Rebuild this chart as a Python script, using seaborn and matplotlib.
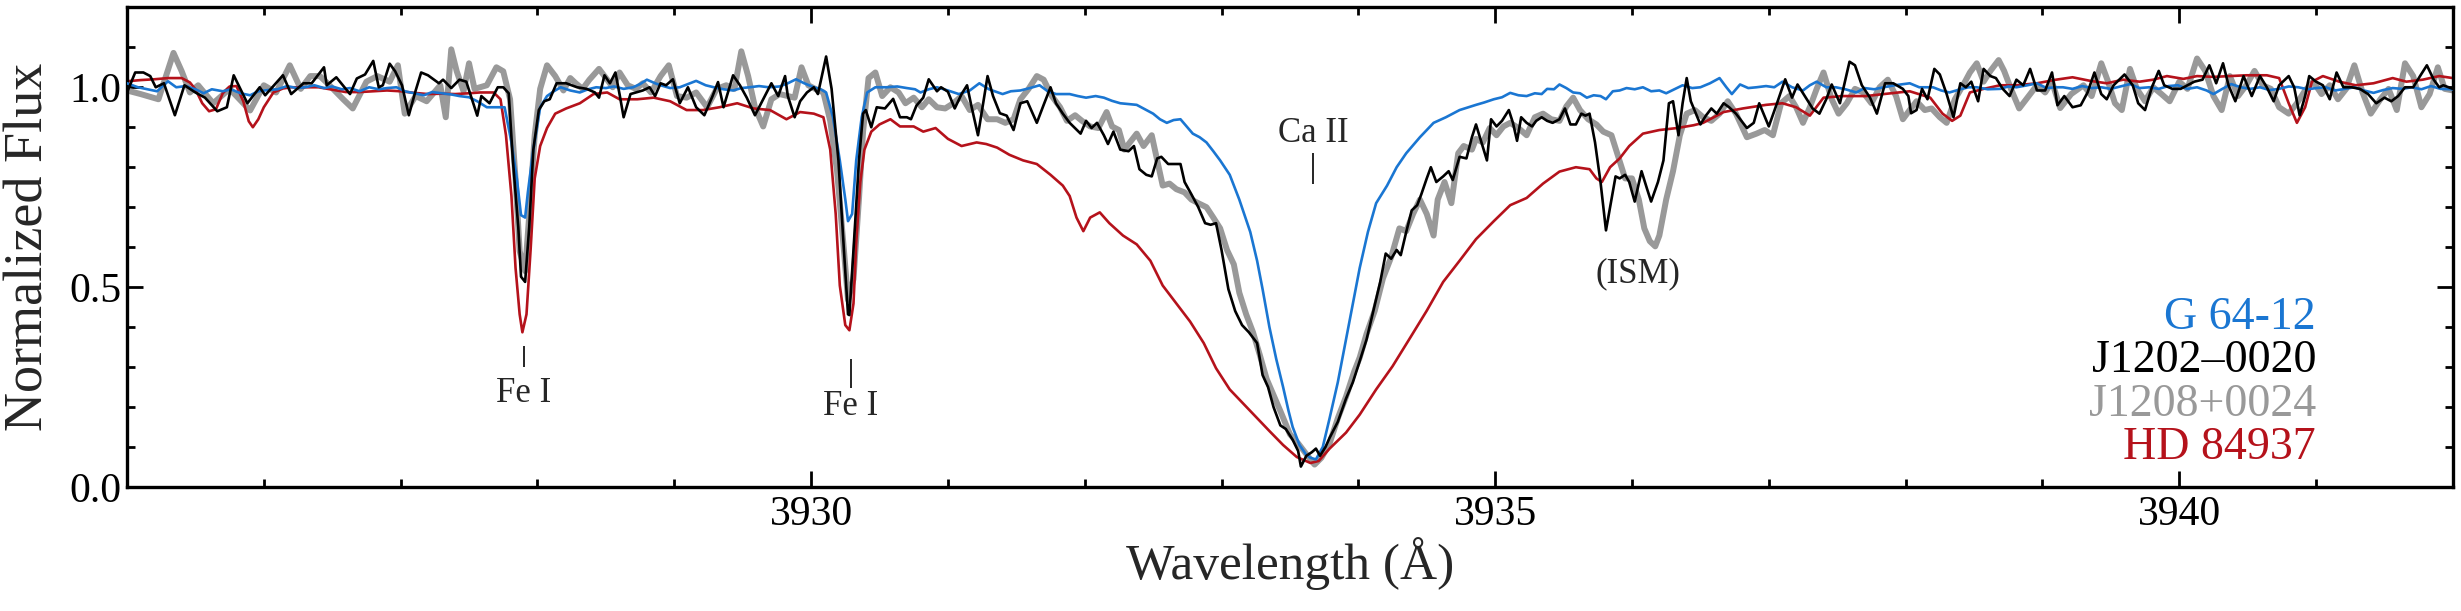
import numpy as np
import pandas as pd
import matplotlib
matplotlib.use("Agg")
import matplotlib.pyplot as plt
from matplotlib.ticker import MultipleLocator, FixedLocator
import seaborn as sns

sns.set_style("ticks")
plt.rcParams["font.family"] = ["Liberation Serif", "DejaVu Serif"]
plt.rcParams["mathtext.fontset"] = "dejavuserif"

# ---- data (wavelength in A, normalized flux) ----
g6412_wl = [3925.00, 3925.08, 3925.15, 3925.22, 3925.30, 3925.36, 3925.43, 3925.50, 3925.56, 3925.62,
            3925.70, 3925.76, 3925.83, 3925.90, 3925.96, 3926.03, 3926.10, 3926.17, 3926.24, 3926.30,
            3926.37, 3926.44, 3926.50, 3926.57, 3926.63, 3926.70, 3926.77, 3926.84, 3926.90, 3926.97,
            3927.03, 3927.10, 3927.17, 3927.23, 3927.30, 3927.37, 3927.43, 3927.50, 3927.56, 3927.63,
            3927.70, 3927.76, 3927.81, 3927.85, 3927.88, 3927.91, 3927.93, 3927.97, 3928.02, 3928.07,
            3928.12, 3928.17, 3928.24, 3928.31, 3928.37, 3928.43, 3928.50, 3928.56, 3928.63, 3928.70,
            3928.75, 3928.80, 3928.86, 3928.90, 3928.97, 3929.04, 3929.10, 3929.16, 3929.23, 3929.29,
            3929.36, 3929.43, 3929.49, 3929.55, 3929.62, 3929.69, 3929.77, 3929.83, 3929.89, 3929.95,
            3930.02, 3930.07, 3930.11, 3930.16, 3930.21, 3930.25, 3930.27, 3930.30, 3930.33, 3930.37,
            3930.41, 3930.47, 3930.55, 3930.63, 3930.70, 3930.76, 3930.80, 3930.86, 3930.92, 3931.00,
            3931.08, 3931.16, 3931.23, 3931.30, 3931.40, 3931.46, 3931.53, 3931.60, 3931.67, 3931.73,
            3931.79, 3931.89, 3931.95, 3932.01, 3932.08, 3932.14, 3932.20, 3932.26, 3932.32, 3932.38,
            3932.44, 3932.50, 3932.55, 3932.60, 3932.65, 3932.70, 3932.75, 3932.79, 3932.84, 3932.89,
            3932.94, 3932.99, 3933.06, 3933.13, 3933.21, 3933.26, 3933.30, 3933.35, 3933.40, 3933.45,
            3933.49, 3933.52, 3933.57, 3933.62, 3933.65, 3933.69, 3933.74, 3933.79, 3933.85, 3933.91,
            3933.96, 3934.01, 3934.07, 3934.13, 3934.21, 3934.28, 3934.35, 3934.45, 3934.55, 3934.64,
            3934.74, 3934.86, 3934.92, 3934.99, 3935.05, 3935.11, 3935.17, 3935.23, 3935.29, 3935.34,
            3935.38, 3935.43, 3935.47, 3935.52, 3935.57, 3935.62, 3935.67, 3935.72, 3935.77, 3935.81,
            3935.86, 3935.91, 3935.96, 3936.02, 3936.08, 3936.14, 3936.20, 3936.25, 3936.31, 3936.37,
            3936.44, 3936.50, 3936.57, 3936.64, 3936.69, 3936.73, 3936.79, 3936.85, 3936.91, 3936.98,
            3937.04, 3937.10, 3937.17, 3937.25, 3937.30, 3937.35, 3937.42, 3937.49, 3937.56, 3937.64,
            3937.70, 3937.77, 3937.84, 3937.92, 3938.03, 3938.10, 3938.20, 3938.26, 3938.32, 3938.40,
            3938.46, 3938.52, 3938.60, 3938.69, 3938.75, 3938.81, 3938.89, 3938.96, 3939.03, 3939.10,
            3939.15, 3939.22, 3939.29, 3939.36, 3939.43, 3939.50, 3939.57, 3939.64, 3939.71, 3939.78,
            3939.85, 3939.92, 3939.99, 3940.06, 3940.13, 3940.20, 3940.25, 3940.31, 3940.38, 3940.45,
            3940.52, 3940.59, 3940.66, 3940.73, 3940.80, 3940.87, 3940.94, 3941.00, 3941.07, 3941.14,
            3941.21, 3941.28, 3941.35, 3941.42, 3941.49, 3941.56, 3941.63, 3941.70, 3941.77, 3941.84,
            3941.91, 3942.00]
g6412_fx = [1.010, 1.000, 0.995, 0.990, 1.015, 1.000, 1.003, 0.995, 0.985, 0.995,
            0.990, 0.995, 0.985, 0.980, 0.990, 0.993, 0.995, 1.003, 0.998, 1.000,
            1.005, 0.998, 1.002, 0.995, 0.998, 0.990, 1.000, 0.995, 0.998, 1.000,
            0.990, 0.985, 0.980, 0.988, 0.985, 0.982, 0.978, 0.975, 0.965, 0.950,
            0.950, 0.950, 0.862, 0.770, 0.680, 0.674, 0.737, 0.844, 0.950, 0.978,
            0.990, 1.000, 0.992, 0.987, 0.995, 1.000, 0.998, 1.002, 0.996, 1.000,
            1.008, 1.019, 1.010, 1.005, 0.998, 1.000, 1.008, 1.016, 1.005, 1.000,
            0.995, 0.992, 0.998, 1.000, 1.003, 1.000, 1.002, 1.010, 1.020, 1.010,
            1.000, 0.995, 0.987, 0.925, 0.817, 0.720, 0.665, 0.683, 0.817, 0.925,
            0.987, 1.000, 1.000, 1.002, 0.998, 0.995, 0.987, 0.995, 1.000, 0.992,
            0.983, 0.992, 1.010, 0.995, 0.983, 0.990, 0.992, 0.998, 1.005, 0.990,
            0.983, 0.983, 0.978, 0.974, 0.978, 0.974, 0.966, 0.960, 0.958, 0.956,
            0.945, 0.934, 0.920, 0.911, 0.918, 0.920, 0.900, 0.884, 0.875, 0.862,
            0.840, 0.817, 0.781, 0.719, 0.638, 0.566, 0.495, 0.400, 0.320, 0.250,
            0.190, 0.150, 0.105, 0.080, 0.073, 0.069, 0.100, 0.172, 0.262, 0.369,
            0.459, 0.548, 0.638, 0.710, 0.754, 0.800, 0.835, 0.875, 0.911, 0.925,
            0.943, 0.956, 0.962, 0.970, 0.975, 0.986, 0.980, 0.978, 0.985, 0.983,
            0.996, 0.995, 1.007, 0.998, 0.987, 0.985, 0.974, 0.980, 0.978, 0.970,
            0.990, 0.992, 0.998, 0.995, 1.000, 0.990, 0.992, 0.985, 0.995, 1.005,
            0.998, 1.000, 1.010, 1.023, 1.000, 0.983, 1.007, 0.998, 1.000, 1.003,
            1.000, 1.014, 1.000, 0.992, 1.005, 1.014, 1.000, 1.000, 0.995, 0.987,
            0.998, 0.995, 1.000, 1.005, 1.010, 1.000, 1.000, 0.992, 0.987, 0.995,
            1.000, 1.000, 0.995, 0.996, 1.002, 1.000, 1.005, 1.010, 0.998, 1.000,
            1.000, 0.996, 1.003, 0.998, 1.000, 0.996, 1.002, 1.008, 0.998, 1.000,
            0.996, 1.003, 1.005, 0.996, 1.000, 0.992, 0.983, 0.995, 1.008, 1.000,
            0.996, 1.000, 0.993, 0.996, 1.002, 1.000, 0.995, 0.998, 1.000, 0.992,
            0.996, 1.000, 0.992, 0.986, 0.993, 0.998, 0.996, 1.000, 0.995, 1.003,
            0.996, 0.995]

j1202_wl = [3925.00, 3925.06, 3925.12, 3925.17, 3925.21, 3925.27, 3925.35, 3925.42, 3925.50, 3925.57,
            3925.66, 3925.73, 3925.78, 3925.88, 3925.97, 3926.01, 3926.14, 3926.20, 3926.29, 3926.35,
            3926.44, 3926.46, 3926.53, 3926.63, 3926.68, 3926.74, 3926.80, 3926.84, 3926.87, 3926.92,
            3926.96, 3927.01, 3927.06, 3927.11, 3927.15, 3927.20, 3927.28, 3927.31, 3927.37, 3927.43,
            3927.48, 3927.56, 3927.59, 3927.65, 3927.71, 3927.75, 3927.79, 3927.82, 3927.86, 3927.88,
            3927.91, 3927.94, 3927.97, 3928.01, 3928.05, 3928.09, 3928.14, 3928.21, 3928.29, 3928.36,
            3928.42, 3928.45, 3928.49, 3928.53, 3928.57, 3928.60, 3928.63, 3928.68, 3928.72, 3928.77,
            3928.82, 3928.86, 3928.90, 3928.94, 3928.99, 3929.04, 3929.10, 3929.16, 3929.22, 3929.28,
            3929.32, 3929.36, 3929.43, 3929.48, 3929.53, 3929.59, 3929.65, 3929.71, 3929.76, 3929.81,
            3929.83, 3929.88, 3929.92, 3929.97, 3930.02, 3930.05, 3930.11, 3930.15, 3930.20, 3930.24,
            3930.27, 3930.28, 3930.31, 3930.35, 3930.38, 3930.40, 3930.44, 3930.48, 3930.54, 3930.60,
            3930.65, 3930.70, 3930.73, 3930.77, 3930.82, 3930.86, 3930.92, 3930.95, 3931.00, 3931.05,
            3931.10, 3931.14, 3931.17, 3931.22, 3931.26, 3931.29, 3931.33, 3931.38, 3931.43, 3931.48,
            3931.53, 3931.58, 3931.65, 3931.70, 3931.75, 3931.79, 3931.84, 3931.89, 3931.97, 3932.01,
            3932.05, 3932.09, 3932.14, 3932.17, 3932.21, 3932.26, 3932.32, 3932.36, 3932.40, 3932.45,
            3932.49, 3932.53, 3932.56, 3932.61, 3932.66, 3932.70, 3932.73, 3932.78, 3932.83, 3932.88,
            3932.92, 3932.96, 3933.00, 3933.05, 3933.10, 3933.15, 3933.20, 3933.26, 3933.30, 3933.34,
            3933.38, 3933.43, 3933.47, 3933.52, 3933.56, 3933.58, 3933.62, 3933.66, 3933.69, 3933.72,
            3933.76, 3933.79, 3933.85, 3933.91, 3933.96, 3934.01, 3934.06, 3934.11, 3934.16, 3934.20,
            3934.24, 3934.28, 3934.31, 3934.35, 3934.39, 3934.43, 3934.46, 3934.50, 3934.53, 3934.57,
            3934.62, 3934.66, 3934.69, 3934.74, 3934.79, 3934.83, 3934.86, 3934.90, 3934.94, 3934.97,
            3935.01, 3935.05, 3935.10, 3935.13, 3935.16, 3935.19, 3935.23, 3935.27, 3935.30, 3935.34,
            3935.38, 3935.42, 3935.47, 3935.51, 3935.55, 3935.59, 3935.63, 3935.66, 3935.69, 3935.73,
            3935.77, 3935.81, 3935.85, 3935.88, 3935.91, 3935.95, 3935.98, 3936.02, 3936.07, 3936.11,
            3936.14, 3936.19, 3936.23, 3936.27, 3936.30, 3936.34, 3936.37, 3936.40, 3936.43, 3936.50,
            3936.54, 3936.58, 3936.62, 3936.67, 3936.71, 3936.76, 3936.84, 3936.89, 3936.93, 3937.00,
            3937.06, 3937.12, 3937.17, 3937.21, 3937.27, 3937.32, 3937.37, 3937.42, 3937.46, 3937.52,
            3937.59, 3937.63, 3937.68, 3937.74, 3937.79, 3937.85, 3937.91, 3937.98, 3938.02, 3938.04,
            3938.08, 3938.12, 3938.16, 3938.21, 3938.25, 3938.30, 3938.35, 3938.40, 3938.44, 3938.48,
            3938.53, 3938.57, 3938.62, 3938.66, 3938.71, 3938.76, 3938.81, 3938.86, 3938.91, 3938.96,
            3939.02, 3939.07, 3939.11, 3939.16, 3939.22, 3939.28, 3939.33, 3939.38, 3939.43, 3939.47,
            3939.52, 3939.60, 3939.66, 3939.70, 3939.75, 3939.80, 3939.85, 3939.89, 3939.95, 3940.01,
            3940.06, 3940.11, 3940.17, 3940.22, 3940.27, 3940.32, 3940.36, 3940.41, 3940.47, 3940.53,
            3940.59, 3940.64, 3940.69, 3940.73, 3940.80, 3940.84, 3940.88, 3940.92, 3940.95, 3941.00,
            3941.05, 3941.10, 3941.15, 3941.20, 3941.26, 3941.32, 3941.38, 3941.44, 3941.50, 3941.55,
            3941.60, 3941.65, 3941.71, 3941.76, 3941.81, 3941.86, 3941.90, 3941.93, 3942.00]
j1202_fx = [0.987, 1.037, 1.037, 1.028, 1.000, 1.010, 0.930, 1.005, 0.987, 0.974,
            0.940, 0.950, 1.030, 0.960, 1.000, 0.980, 1.030, 0.983, 1.010, 1.010,
            1.050, 1.005, 1.025, 0.983, 1.022, 1.032, 1.066, 1.000, 1.005, 1.059,
            1.040, 1.005, 0.930, 0.992, 1.037, 1.030, 1.010, 1.019, 0.998, 1.019,
            1.014, 0.929, 0.978, 0.960, 1.000, 1.000, 0.985, 0.820, 0.650, 0.526,
            0.513, 0.650, 0.844, 0.943, 0.965, 0.970, 1.010, 1.010, 1.000, 0.996,
            0.987, 0.974, 1.030, 1.010, 1.037, 0.983, 0.925, 0.983, 0.987, 0.992,
            1.000, 0.978, 1.010, 1.005, 1.020, 0.960, 1.000, 0.950, 0.930, 0.978,
            1.013, 0.950, 1.030, 1.005, 0.974, 0.930, 0.970, 1.010, 0.978, 1.028,
            0.978, 0.925, 0.965, 0.987, 1.000, 0.983, 1.077, 0.996, 0.817, 0.593,
            0.432, 0.430, 0.593, 0.817, 0.934, 0.943, 0.900, 0.950, 0.947, 0.971,
            0.925, 0.925, 0.920, 0.954, 0.974, 1.020, 0.990, 1.000, 0.989, 0.947,
            0.983, 1.005, 0.956, 0.880, 0.965, 1.028, 0.978, 0.935, 0.929, 0.893,
            0.960, 0.965, 0.911, 0.956, 1.000, 0.960, 0.934, 0.911, 0.884, 0.916,
            0.898, 0.911, 0.880, 0.858, 0.889, 0.844, 0.840, 0.853, 0.795, 0.781,
            0.777, 0.822, 0.826, 0.808, 0.808, 0.808, 0.763, 0.732, 0.700, 0.660,
            0.656, 0.660, 0.593, 0.495, 0.440, 0.405, 0.387, 0.360, 0.280, 0.250,
            0.200, 0.154, 0.145, 0.118, 0.090, 0.051, 0.078, 0.087, 0.096, 0.078,
            0.100, 0.123, 0.163, 0.221, 0.262, 0.315, 0.369, 0.441, 0.513, 0.584,
            0.571, 0.593, 0.580, 0.638, 0.692, 0.705, 0.732, 0.772, 0.800, 0.763,
            0.777, 0.790, 0.768, 0.826, 0.822, 0.875, 0.907, 0.862, 0.817, 0.920,
            0.902, 0.916, 0.943, 0.911, 0.866, 0.925, 0.911, 0.902, 0.916, 0.925,
            0.916, 0.911, 0.920, 0.947, 0.907, 0.907, 0.934, 0.929, 0.934, 0.862,
            0.763, 0.642, 0.719, 0.777, 0.772, 0.781, 0.763, 0.714, 0.790, 0.746,
            0.714, 0.763, 0.817, 0.960, 0.965, 0.880, 0.960, 1.023, 0.965, 0.907,
            0.929, 0.947, 0.934, 0.960, 0.950, 0.934, 0.898, 0.911, 0.960, 0.902,
            0.960, 1.020, 0.974, 1.007, 0.974, 0.947, 0.934, 0.970, 1.007, 0.960,
            1.064, 1.055, 1.005, 0.974, 0.934, 1.010, 1.010, 0.996, 0.978, 0.935,
            0.943, 0.996, 0.970, 1.046, 1.032, 0.983, 0.925, 1.010, 1.000, 1.014,
            0.965, 1.046, 1.028, 1.023, 0.996, 0.978, 1.019, 1.005, 1.046, 0.992,
            0.992, 1.037, 0.955, 0.978, 0.950, 0.955, 0.987, 1.037, 0.983, 0.970,
            1.005, 1.032, 1.005, 0.960, 0.943, 1.000, 1.041, 1.005, 0.996, 0.996,
            1.005, 1.014, 1.019, 1.055, 1.010, 1.060, 1.005, 0.965, 1.028, 0.978,
            1.028, 1.000, 0.965, 1.005, 1.028, 1.000, 0.930, 0.978, 1.028, 1.014,
            1.005, 0.970, 1.037, 1.000, 1.000, 0.996, 0.983, 0.960, 0.974, 0.965,
            0.978, 1.000, 1.000, 1.028, 1.055, 1.019, 1.000, 1.005, 0.996]

j1208_wl = [3925.00, 3925.10, 3925.23, 3925.34, 3925.40, 3925.46, 3925.52, 3925.63, 3925.75, 3925.90,
            3926.00, 3926.09, 3926.19, 3926.27, 3926.34, 3926.41, 3926.48, 3926.58, 3926.65, 3926.75,
            3926.83, 3926.92, 3926.98, 3927.03, 3927.11, 3927.19, 3927.29, 3927.33, 3927.37, 3927.41,
            3927.46, 3927.50, 3927.54, 3927.58, 3927.63, 3927.70, 3927.75, 3927.80, 3927.84, 3927.87,
            3927.91, 3927.94, 3927.98, 3928.02, 3928.07, 3928.13, 3928.19, 3928.24, 3928.28, 3928.33,
            3928.38, 3928.45, 3928.51, 3928.55, 3928.60, 3928.66, 3928.72, 3928.77, 3928.83, 3928.90,
            3928.96, 3929.02, 3929.09, 3929.16, 3929.24, 3929.31, 3929.38, 3929.44, 3929.49, 3929.54,
            3929.59, 3929.65, 3929.71, 3929.77, 3929.83, 3929.88, 3929.93, 3929.98, 3930.03, 3930.09,
            3930.14, 3930.19, 3930.24, 3930.27, 3930.31, 3930.35, 3930.38, 3930.42, 3930.47, 3930.52,
            3930.58, 3930.64, 3930.69, 3930.75, 3930.81, 3930.86, 3930.92, 3930.98, 3931.04, 3931.10,
            3931.16, 3931.22, 3931.29, 3931.36, 3931.42, 3931.48, 3931.53, 3931.59, 3931.65, 3931.70,
            3931.76, 3931.82, 3931.87, 3931.93, 3931.98, 3932.04, 3932.10, 3932.16, 3932.20, 3932.25,
            3932.29, 3932.33, 3932.38, 3932.43, 3932.49, 3932.53, 3932.57, 3932.62, 3932.67, 3932.73,
            3932.78, 3932.83, 3932.89, 3932.94, 3932.99, 3933.04, 3933.09, 3933.13, 3933.18, 3933.23,
            3933.28, 3933.33, 3933.38, 3933.43, 3933.50, 3933.56, 3933.62, 3933.68, 3933.73, 3933.79,
            3933.85, 3933.91, 3933.97, 3934.01, 3934.06, 3934.12, 3934.18, 3934.24, 3934.30, 3934.35,
            3934.40, 3934.45, 3934.50, 3934.55, 3934.58, 3934.63, 3934.68, 3934.73, 3934.77, 3934.83,
            3934.86, 3934.91, 3934.96, 3935.01, 3935.06, 3935.11, 3935.17, 3935.23, 3935.29, 3935.35,
            3935.41, 3935.47, 3935.52, 3935.57, 3935.62, 3935.68, 3935.74, 3935.79, 3935.85, 3935.90,
            3935.95, 3936.00, 3936.05, 3936.09, 3936.13, 3936.17, 3936.20, 3936.25, 3936.30, 3936.35,
            3936.40, 3936.46, 3936.52, 3936.58, 3936.64, 3936.70, 3936.76, 3936.84, 3936.91, 3936.97,
            3937.03, 3937.09, 3937.15, 3937.20, 3937.25, 3937.30, 3937.35, 3937.40, 3937.46, 3937.51,
            3937.57, 3937.63, 3937.69, 3937.75, 3937.81, 3937.87, 3937.93, 3937.98, 3938.03, 3938.08,
            3938.14, 3938.19, 3938.25, 3938.30, 3938.36, 3938.42, 3938.47, 3938.52, 3938.57, 3938.62,
            3938.68, 3938.72, 3938.77, 3938.83, 3938.90, 3938.96, 3939.02, 3939.07, 3939.13, 3939.21,
            3939.30, 3939.36, 3939.43, 3939.48, 3939.53, 3939.58, 3939.64, 3939.69, 3939.75, 3939.81,
            3939.87, 3939.93, 3940.00, 3940.06, 3940.13, 3940.19, 3940.25, 3940.31, 3940.37, 3940.43,
            3940.49, 3940.55, 3940.61, 3940.67, 3940.73, 3940.80, 3940.86, 3940.92, 3940.98, 3941.04,
            3941.10, 3941.16, 3941.22, 3941.28, 3941.34, 3941.40, 3941.47, 3941.53, 3941.59, 3941.65,
            3941.71, 3941.77, 3941.83, 3941.89, 3941.94, 3942.00]
j1208_fx = [0.992, 0.983, 0.970, 1.086, 1.040, 0.987, 1.005, 0.960, 0.996, 0.942,
            1.005, 0.987, 1.055, 0.996, 1.028, 1.028, 1.005, 0.970, 0.947, 1.014,
            1.028, 1.014, 1.055, 0.934, 0.978, 0.965, 1.005, 0.925, 1.095, 1.040,
            0.990, 1.060, 0.996, 1.000, 1.005, 1.050, 1.040, 0.970, 0.770, 0.590,
            0.540, 0.680, 0.880, 0.996, 1.055, 1.028, 0.992, 1.023, 1.010, 0.996,
            1.019, 1.046, 1.019, 1.000, 1.037, 1.005, 0.996, 1.010, 0.987, 1.028,
            1.055, 0.978, 0.974, 0.987, 0.950, 0.996, 1.005, 0.996, 1.090, 1.028,
            0.950, 0.902, 0.970, 0.983, 0.978, 0.974, 1.050, 1.005, 0.996, 0.987,
            0.916, 0.790, 0.593, 0.468, 0.520, 0.720, 0.889, 1.023, 1.037, 0.978,
            1.000, 0.987, 0.960, 0.974, 0.950, 0.970, 0.950, 0.947, 0.960, 0.978,
            0.943, 0.956, 0.920, 0.920, 0.911, 0.920, 0.970, 0.996, 1.028, 1.019,
            0.978, 0.950, 0.916, 0.930, 0.916, 0.902, 0.898, 0.938, 0.902, 0.893,
            0.844, 0.862, 0.884, 0.853, 0.880, 0.817, 0.754, 0.759, 0.745, 0.737,
            0.719, 0.710, 0.700, 0.674, 0.647, 0.593, 0.557, 0.486, 0.432, 0.387,
            0.330, 0.270, 0.230, 0.190, 0.132, 0.109, 0.082, 0.056, 0.073, 0.109,
            0.172, 0.226, 0.289, 0.324, 0.383, 0.441, 0.522, 0.575, 0.647, 0.640,
            0.683, 0.719, 0.683, 0.629, 0.719, 0.763, 0.710, 0.835, 0.853, 0.844,
            0.871, 0.862, 0.898, 0.880, 0.902, 0.911, 0.898, 0.880, 0.925, 0.934,
            0.920, 0.916, 0.952, 0.974, 0.943, 0.920, 0.907, 0.889, 0.880, 0.826,
            0.772, 0.772, 0.719, 0.647, 0.615, 0.602, 0.629, 0.719, 0.790, 0.880,
            0.934, 0.943, 0.925, 0.916, 0.934, 0.965, 0.934, 0.875, 0.884, 0.893,
            0.880, 0.960, 0.978, 0.950, 0.911, 0.950, 0.996, 1.037, 0.970, 0.934,
            0.960, 0.996, 0.987, 0.960, 1.000, 1.019, 0.978, 0.920, 0.943, 0.965,
            0.943, 0.947, 0.925, 0.911, 0.970, 1.005, 1.037, 1.060, 1.014, 1.041,
            1.068, 1.041, 0.996, 0.947, 0.978, 1.005, 0.987, 1.014, 0.948, 0.983,
            1.005, 0.978, 1.060, 1.014, 0.960, 0.943, 1.046, 0.996, 0.965, 1.000,
            0.983, 0.965, 1.014, 0.996, 1.072, 1.041, 0.978, 0.943, 1.028, 0.978,
            1.005, 1.041, 1.005, 0.996, 0.950, 0.934, 0.960, 0.992, 1.014, 0.983,
            1.005, 0.970, 0.996, 1.055, 0.987, 0.934, 0.970, 0.996, 0.943, 1.060,
            1.028, 0.950, 0.983, 1.050, 0.996, 0.992]

hd84937_wl = [3925.00, 3925.10, 3925.20, 3925.30, 3925.40, 3925.46, 3925.50, 3925.55, 3925.60, 3925.65,
              3925.70, 3925.75, 3925.80, 3925.85, 3925.89, 3925.92, 3925.96, 3926.00, 3926.07, 3926.14,
              3926.20, 3926.30, 3926.40, 3926.50, 3926.60, 3926.70, 3926.80, 3926.90, 3927.00, 3927.10,
              3927.20, 3927.30, 3927.40, 3927.50, 3927.58, 3927.68, 3927.73, 3927.77, 3927.81, 3927.84,
              3927.87, 3927.89, 3927.92, 3927.95, 3927.98, 3928.02, 3928.07, 3928.13, 3928.21, 3928.31,
              3928.41, 3928.51, 3928.60, 3928.73, 3928.85, 3928.97, 3929.09, 3929.21, 3929.33, 3929.46,
              3929.58, 3929.70, 3929.82, 3929.92, 3930.02, 3930.09, 3930.14, 3930.18, 3930.21, 3930.25,
              3930.28, 3930.31, 3930.33, 3930.36, 3930.39, 3930.44, 3930.50, 3930.58, 3930.65, 3930.75,
              3930.82, 3930.91, 3931.00, 3931.10, 3931.21, 3931.28, 3931.36, 3931.45, 3931.55, 3931.65,
              3931.75, 3931.84, 3931.89, 3931.94, 3931.99, 3932.04, 3932.11, 3932.18, 3932.28, 3932.38,
              3932.48, 3932.57, 3932.67, 3932.77, 3932.87, 3932.96, 3933.06, 3933.16, 3933.26, 3933.35,
              3933.45, 3933.55, 3933.65, 3933.71, 3933.79, 3933.91, 3934.01, 3934.13, 3934.25, 3934.38,
              3934.50, 3934.62, 3934.74, 3934.86, 3934.99, 3935.11, 3935.23, 3935.35, 3935.47, 3935.59,
              3935.69, 3935.74, 3935.78, 3935.84, 3935.91, 3935.98, 3936.08, 3936.20, 3936.33, 3936.45,
              3936.52, 3936.67, 3936.81, 3936.98, 3937.10, 3937.20, 3937.30, 3937.40, 3937.54, 3937.71,
              3937.84, 3938.03, 3938.18, 3938.27, 3938.34, 3938.40, 3938.47, 3938.57, 3938.69, 3938.81,
              3938.96, 3939.10, 3939.22, 3939.35, 3939.47, 3939.59, 3939.71, 3939.81, 3939.91, 3940.03,
              3940.13, 3940.25, 3940.37, 3940.49, 3940.64, 3940.73, 3940.80, 3940.86, 3940.92, 3940.97,
              3941.05, 3941.17, 3941.29, 3941.42, 3941.56, 3941.66, 3941.78, 3941.90, 3942.00]
hd84937_fx = [1.015, 1.018, 1.020, 1.023, 1.023, 1.012, 0.995, 0.960, 0.940, 0.945,
              0.985, 1.002, 1.003, 0.965, 0.915, 0.900, 0.920, 0.950, 0.987, 0.997,
              1.000, 1.000, 1.000, 0.994, 0.988, 0.988, 0.990, 0.992, 0.990, 0.986,
              0.983, 0.984, 0.983, 0.985, 0.987, 0.987, 0.970, 0.880, 0.728, 0.548,
              0.432, 0.387, 0.432, 0.593, 0.772, 0.853, 0.898, 0.934, 0.947, 0.960,
              0.983, 0.987, 0.970, 0.970, 0.974, 0.965, 0.943, 0.943, 0.950, 0.960,
              0.947, 0.943, 0.920, 0.938, 0.934, 0.925, 0.844, 0.683, 0.504, 0.405,
              0.392, 0.459, 0.610, 0.763, 0.844, 0.889, 0.907, 0.920, 0.902, 0.902,
              0.889, 0.898, 0.871, 0.853, 0.862, 0.858, 0.849, 0.831, 0.817, 0.808,
              0.781, 0.754, 0.728, 0.674, 0.640, 0.674, 0.687, 0.660, 0.629, 0.607,
              0.566, 0.504, 0.459, 0.414, 0.360, 0.297, 0.244, 0.208, 0.172, 0.140,
              0.105, 0.075, 0.060, 0.065, 0.096, 0.136, 0.181, 0.244, 0.302, 0.374,
              0.441, 0.513, 0.566, 0.620, 0.665, 0.705, 0.723, 0.759, 0.789, 0.800,
              0.795, 0.772, 0.763, 0.800, 0.822, 0.853, 0.884, 0.893, 0.898, 0.905,
              0.911, 0.938, 0.947, 0.956, 0.960, 0.950, 0.929, 0.974, 0.978, 0.978,
              0.983, 0.990, 0.974, 0.934, 0.916, 0.929, 0.987, 0.996, 1.005, 1.005,
              1.010, 1.019, 1.025, 1.016, 1.010, 1.019, 1.014, 1.019, 1.028, 1.021,
              1.028, 1.026, 1.028, 1.030, 1.030, 1.023, 0.960, 0.911, 0.950, 1.014,
              1.028, 1.014, 1.005, 1.010, 1.023, 1.014, 1.019, 1.028, 1.023]

star_names = ["G 64-12", "J1202\u20130020", "J1208+0024", "HD 84937"]
star_colors = ["#1a76d2", "#000000", "#999999", "#b5121b"]

# line identifications
line_labels = ["Fe I", "Fe I", "Ca II", "(ISM)"]
line_wl = [3927.90, 3930.29, 3933.67, 3936.04]
x_ticks = [3930, 3935, 3940]

frames = []
for name, wl, fx in [(star_names[0], g6412_wl, g6412_fx),
                     (star_names[1], j1202_wl, j1202_fx),
                     (star_names[2], j1208_wl, j1208_fx),
                     (star_names[3], hd84937_wl, hd84937_fx)]:
    frames.append(pd.DataFrame({"wavelength": wl, "flux": fx, "star": name}))
spec = pd.concat(frames, ignore_index=True)

fig = plt.figure(figsize=(24.61, 6.11), dpi=100)
ax = fig.add_axes([0.0516, 0.203, 0.9451, 0.785])

# draw order: thick grey underneath, then red, blue, black on top
draw = [(2, 4.3, 1), (3, 1.9, 2), (0, 1.9, 3), (1, 1.9, 4)]
for i, lw, z in draw:
    d = spec[spec["star"] == star_names[i]]
    sns.lineplot(data=d, x="wavelength", y="flux", sort=False, estimator=None,
                 color=star_colors[i], lw=lw, zorder=z, ax=ax,
                 solid_joinstyle="round", solid_capstyle="round")

ax.set_xlim(3925, 3942)
ax.set_ylim(0, 1.2)
ax.xaxis.set_major_locator(FixedLocator(x_ticks))
ax.xaxis.set_minor_locator(MultipleLocator(1))
ax.yaxis.set_major_locator(MultipleLocator(0.5))
ax.yaxis.set_minor_locator(MultipleLocator(0.1))
ax.tick_params(which="both", direction="in", top=True, right=True, width=2.0,
               labelsize=30, colors="black")
ax.tick_params(which="major", length=11.5)
ax.tick_params(which="minor", length=5.7)
ax.tick_params(axis="x", which="major", pad=6)
ax.tick_params(axis="y", which="major", pad=4)
for s in ax.spines.values():
    s.set_linewidth(2.4)
    s.set_color("black")

ax.set_xlabel("Wavelength (\u00c5)", fontsize=37, labelpad=2)
ax.set_ylabel("Normalized Flux", fontsize=39)
ax.yaxis.set_label_coords(-0.031, 0.5)

# line markers: small vertical tick + label
fs = 25
ax.vlines(line_wl[0], 0.30, 0.352, color="black", lw=1.2)
ax.text(line_wl[0], 0.212, line_labels[0], ha="center", va="baseline", fontsize=fs)
ax.vlines(line_wl[1], 0.247, 0.32, color="black", lw=1.2)
ax.text(line_wl[1], 0.18, line_labels[1], ha="center", va="baseline", fontsize=fs)
ax.vlines(line_wl[2], 0.758, 0.836, color="black", lw=1.2)
ax.text(line_wl[2], 0.863, line_labels[2], ha="center", va="baseline", fontsize=fs)
ax.text(line_wl[3], 0.513, line_labels[3], ha="center", va="baseline", fontsize=fs)

# star names as coloured text in the lower right
name_y = [0.395, 0.288, 0.178, 0.07]
for name, col, y in zip(star_names, star_colors, name_y):
    ax.text(3941.0, y, name, color=col, ha="right", va="baseline", fontsize=33)

fig.savefig("out.png", dpi=100)
